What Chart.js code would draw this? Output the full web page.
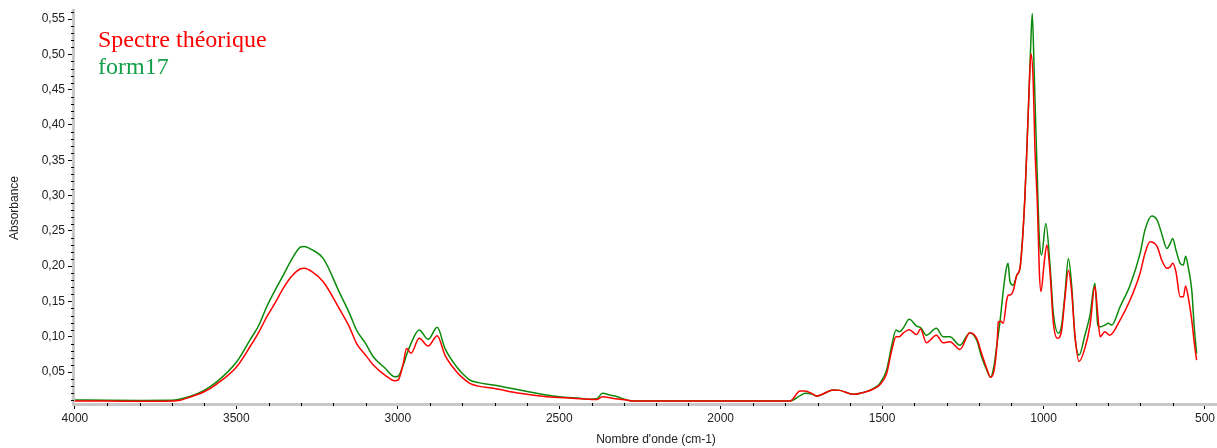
<!DOCTYPE html>
<html><head><meta charset="utf-8">
<script src="https://cdn.jsdelivr.net/npm/chart.js@4.4.0/dist/chart.umd.min.js"></script>
<style>html,body{margin:0;padding:0;background:#fff}#wrap{width:1217px;height:448px;position:relative}</style>
</head><body><div id="wrap"><canvas id="c" width="1217" height="448"></canvas></div>
<script>
const seriesNames = ['Spectre théorique', 'form17'];
const xTicks = [4000, 3500, 3000, 2500, 2000, 1500, 1000, 500];
const yTicks = [0.05, 0.10, 0.15, 0.20, 0.25, 0.30, 0.35, 0.40, 0.45, 0.50, 0.55];

const redWn = [4000,3900,3800,3700,3680,3640,3600,3561,3499,3458,3430,3406,3380,3355,3330,3303,3290,3265,3231,3179,3150,3128,3100,3076,3040,3009,2999,2983,2973,2959,2934,2906,2878,2854,2818,2800,2777,2750,2704,2622,2539,2498,2436,2405,2384,2366,2343,2327,2291,2272,2000,1785,1754,1739,1718,1703,1651,1631,1590,1558,1522,1507,1486,1470,1457,1447,1435,1416,1393,1381,1363,1332,1311,1290,1259,1228,1207,1192,1176,1164,1153,1144,1140,1132,1125,1114,1109,1104,1094,1083,1073,1065,1058,1052,1045,1039,1032,1027,1019,1013,1008,998,990,980,970,957,944,934,923,913,903,890,872,856,841,832,825,810,795,763,732,701,686,670,648,634,618,608,600,590,577,567,560,552,541,533,526];
const redAbs = [0.009,0.009,0.0085,0.009,0.0095,0.015,0.022,0.033,0.0575,0.0858,0.107,0.128,0.148,0.1685,0.185,0.196,0.197,0.192,0.178,0.138,0.114,0.0906,0.074,0.0599,0.0457,0.0377,0.0387,0.0623,0.0835,0.0765,0.0977,0.0868,0.1014,0.074,0.0504,0.042,0.034,0.030,0.0269,0.0198,0.015,0.014,0.012,0.0113,0.011,0.015,0.0136,0.012,0.0103,0.009,0.009,0.009,0.023,0.023,0.0198,0.016,0.0245,0.024,0.0184,0.021,0.027,0.032,0.048,0.081,0.100,0.100,0.105,0.110,0.103,0.111,0.0915,0.102,0.0915,0.093,0.082,0.1057,0.0977,0.0765,0.055,0.0425,0.053,0.09,0.121,0.122,0.119,0.152,0.159,0.159,0.165,0.187,0.197,0.239,0.296,0.362,0.447,0.501,0.461,0.371,0.286,0.192,0.164,0.205,0.230,0.192,0.121,0.0977,0.109,0.154,0.194,0.164,0.102,0.065,0.0835,0.1165,0.171,0.131,0.100,0.107,0.102,0.1236,0.152,0.190,0.218,0.2345,0.2275,0.2086,0.197,0.199,0.204,0.192,0.1566,0.1566,0.172,0.1566,0.1236,0.0906,0.067];

const greenWn = [4000,3900,3800,3700,3680,3640,3600,3561,3499,3458,3430,3406,3380,3355,3330,3303,3290,3265,3231,3179,3150,3128,3100,3076,3040,3009,2999,2983,2973,2959,2934,2906,2878,2854,2818,2800,2777,2750,2704,2622,2539,2498,2436,2405,2384,2366,2343,2327,2291,2272,2000,1785,1754,1739,1718,1703,1651,1631,1590,1558,1522,1507,1486,1470,1457,1447,1435,1416,1393,1381,1363,1332,1311,1290,1259,1228,1207,1192,1176,1164,1153,1144,1135,1126,1116,1110,1104,1094,1083,1073,1065,1058,1052,1045,1040,1035,1029,1023,1018,1013,1006,993,980,970,954,944,934,923,913,903,890,872,856,841,832,825,810,800,789,763,732,701,686,665,648,634,618,608,600,590,577,567,560,552,541,533,526];
const greenAbs = [0.0105,0.010,0.0098,0.010,0.011,0.016,0.024,0.036,0.0646,0.0953,0.1166,0.1425,0.166,0.187,0.2086,0.2266,0.228,0.223,0.211,0.161,0.1335,0.1095,0.0906,0.0717,0.0556,0.0433,0.044,0.060,0.074,0.0906,0.1095,0.0963,0.1133,0.0835,0.0575,0.048,0.0387,0.035,0.0316,0.0245,0.0174,0.015,0.0127,0.0113,0.012,0.0198,0.0174,0.016,0.0103,0.009,0.009,0.009,0.0165,0.0198,0.019,0.016,0.0245,0.024,0.0184,0.021,0.028,0.034,0.053,0.088,0.1095,0.107,0.112,0.1246,0.115,0.113,0.102,0.112,0.100,0.100,0.088,0.1057,0.095,0.0717,0.053,0.0425,0.060,0.091,0.121,0.16,0.195,0.204,0.178,0.173,0.187,0.197,0.239,0.296,0.362,0.447,0.51,0.558,0.475,0.381,0.305,0.239,0.216,0.2605,0.2015,0.135,0.105,0.1165,0.159,0.211,0.173,0.102,0.074,0.102,0.131,0.1756,0.1165,0.114,0.1165,0.119,0.1165,0.1425,0.173,0.218,0.251,0.271,0.265,0.246,0.225,0.232,0.239,0.223,0.204,0.2015,0.214,0.199,0.166,0.112,0.0765];

const lineColors = ['#ff0000', '#0a8a0a'];
const legendColors = ['#ff0000', '#14a04a'];

const toPts = (xs, ys) => xs.map((x, i) => ({x: x, y: ys[i]}));

const decor = {
  id: 'decor',
  afterDraw(chart) {
    const ctx = chart.ctx;
    const xs = chart.scales.x, ys = chart.scales.y;
    const ca = chart.chartArea;
    ctx.save();
    ctx.strokeStyle = '#000';
    ctx.lineWidth = 1;
    for (let v = 600; v <= 3900; v += 100) {
      if (v % 500 === 0) continue;
      const px = Math.round(xs.getPixelForValue(v)) + 0.5;
      ctx.beginPath(); ctx.moveTo(px, ca.bottom - 1); ctx.lineTo(px, ca.bottom + 2); ctx.stroke();
    }
    for (let k = 1; k <= 56; k++) {
      if (k % 5 === 0) continue;
      const v = k / 100;
      const py = Math.round(ys.getPixelForValue(v)) + 0.5;
      ctx.beginPath(); ctx.moveTo(ca.left - 2, py); ctx.lineTo(ca.left + 1, py); ctx.stroke();
    }
    ctx.fillStyle = '#222';
    ctx.font = '12px "Liberation Sans", Arial, sans-serif';
    ctx.textAlign = 'center'; ctx.textBaseline = 'middle';
    ctx.fillText("Nombre d'onde (cm-1)", 656, 440);
    ctx.save();
    ctx.translate(15, 208);
    ctx.rotate(-Math.PI / 2);
    ctx.fillText('Absorbance', 0, 0);
    ctx.restore();
    ctx.font = '24px "Liberation Serif", "Times New Roman", serif';
    ctx.textAlign = 'left'; ctx.textBaseline = 'alphabetic';
    chart.data.datasets.forEach((ds, i) => {
      ctx.fillStyle = legendColors[i];
      ctx.fillText(ds.label, 98, 47 + i * 27);
    });
    ctx.restore();
  }
};

new Chart(document.getElementById('c'), {
  type: 'line',
  data: {
    datasets: [
      {label: seriesNames[0], data: toPts(redWn, redAbs), borderColor: lineColors[0], borderWidth: 1.5, pointRadius: 0, cubicInterpolationMode: 'monotone', fill: false},
      {label: seriesNames[1], data: toPts(greenWn, greenAbs), borderColor: lineColors[1], borderWidth: 1.5, pointRadius: 0, cubicInterpolationMode: 'monotone', fill: false}
    ]
  },
  options: {
    responsive: false,
    animation: false,
    layout: {padding: {top: 10, right: 0, left: 0, bottom: 0}},
    plugins: {legend: {display: false}, tooltip: {enabled: false}},
    scales: {
      x: {
        type: 'linear', reverse: true, min: 463, max: 4006,
        afterBuildTicks: s => { s.ticks = xTicks.map(v => ({value: v})); },
        afterFit: s => { s.height = 44; },
        ticks: {color: '#222', font: {family: '"Liberation Sans", Arial, sans-serif', size: 12}, padding: 2, maxRotation: 0, autoSkip: false, callback: v => String(v)},
        grid: {display: true, drawOnChartArea: false, drawTicks: true, tickLength: 5, tickColor: '#000', lineWidth: 1},
        border: {display: true, color: '#c8c8c8', width: 3}
      },
      y: {
        type: 'linear', min: 0.0047, max: 0.5626,
        afterBuildTicks: s => { s.ticks = yTicks.map(v => ({value: v})); },
        afterFit: s => { s.width = 73; },
        ticks: {color: '#222', font: {family: '"Liberation Sans", Arial, sans-serif', size: 12}, padding: 3, autoSkip: false, callback: v => v.toFixed(2).replace('.', ',')},
        grid: {display: true, drawOnChartArea: false, drawTicks: true, tickLength: 5, tickColor: '#000', lineWidth: 1},
        border: {display: true, color: '#c8c8c8', width: 3}
      }
    }
  },
  plugins: [decor]
});
</script></body></html>
